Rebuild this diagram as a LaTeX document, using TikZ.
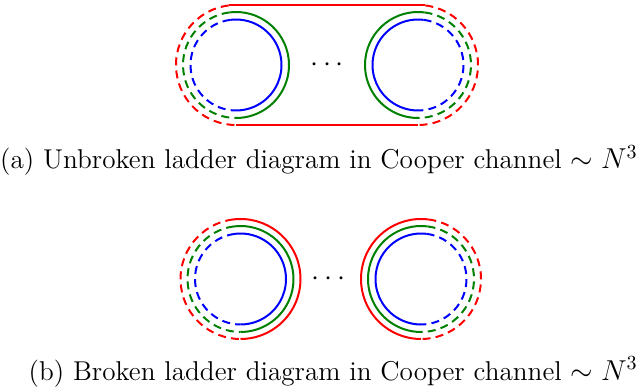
\documentclass[tikz,border=0pt]{standalone}
\usepackage{amsmath}
\definecolor{dgreen}{RGB}{0,128,0}
\begin{document}
\begin{tikzpicture}[x=0.5pt,y=0.5pt,
  every node/.style={font=\fontsize{13.6}{16}\selectfont},
  ln/.style={line width=1pt},
  dsh/.style={line width=1pt,dash pattern=on 4pt off 2.6pt}]
\useasboundingbox (0,0) rectangle (643,-390);
% centres
\coordinate (A1) at (236,-65);
\coordinate (A2) at (418,-65);
\coordinate (B1) at (240.5,-279);
\coordinate (B2) at (421,-279);
% ---- (a) ----
\foreach \r/\c in {45.5/blue,53/dgreen}{
  \draw[ln,\c] (A1) ++(97:\r) arc[start angle=97,end angle=-90,radius=\r];
  \draw[dsh,\c] (A1) ++(97:\r) arc[start angle=97,end angle=270,radius=\r];
  \draw[ln,\c] (A2) ++(83:\r) arc[start angle=83,end angle=270,radius=\r];
  \draw[dsh,\c] (A2) ++(83:\r) arc[start angle=83,end angle=-90,radius=\r];
}
\draw[dsh,red] (A1) ++(97:60) coordinate (a1t) arc[start angle=97,end angle=270,radius=60] coordinate (a1b);
\draw[dsh,red] (A2) ++(83:60) coordinate (a2t) arc[start angle=83,end angle=-90,radius=60] coordinate (a2b);
\draw[ln,red] (a1t) -- (a2t);
\draw[ln,red] (a1b) -- (a2b);
\node (dotsa) at (329.5,-65) {$\cdots$};
% ---- (b) ----
\foreach \r/\c in {45.5/blue,53/dgreen,60/red}{
  \draw[ln,\c] (B1) ++(97:\r) arc[start angle=97,end angle=-90,radius=\r];
  \draw[dsh,\c] (B1) ++(97:\r) arc[start angle=97,end angle=270,radius=\r];
  \draw[ln,\c] (B2) ++(83:\r) arc[start angle=83,end angle=270,radius=\r];
  \draw[dsh,\c] (B2) ++(83:\r) arc[start angle=83,end angle=-90,radius=\r];
}
\node (dotsb) at (331,-279) {$\cdots$};
% captions
\node[anchor=base east,inner sep=0pt] (capa) at (638,-169) {(a) Unbroken ladder diagram in Cooper channel $\sim N^3$};
\node[anchor=base east,inner sep=0pt] (capb) at (638,-380) {(b) Broken ladder diagram in Cooper channel $\sim N^3$};
\end{tikzpicture}
\end{document}
